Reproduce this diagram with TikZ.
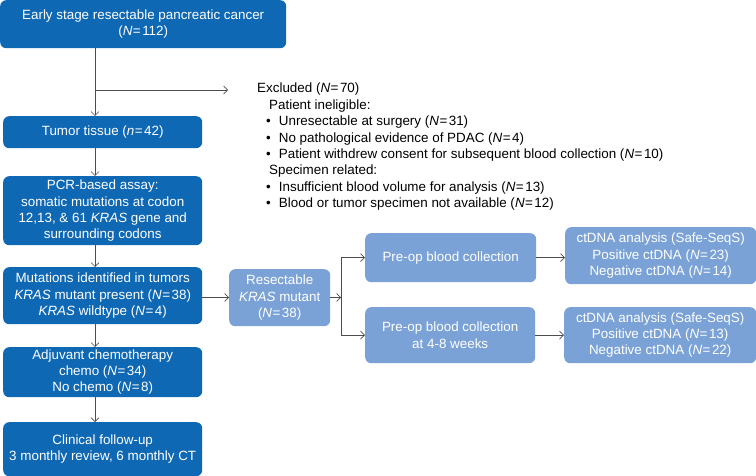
\documentclass[tikz,border=0pt]{standalone}
\usepackage{fontspec}
\setmainfont{Liberation Sans}
\usetikzlibrary{positioning, arrows.meta}

\definecolor{darkbox}{RGB}{15,104,179}
\definecolor{lightbox}{RGB}{123,162,214}
\definecolor{linegray}{RGB}{77,77,77}

\newcommand{\NN}[1]{\textit{N}\kern0.5pt=\kern1.5pt#1}

\tikzset{
  darkstep/.style={fill=darkbox, text=white, rounded corners=6pt, anchor=north west, align=center, inner sep=1pt, font=\fontsize{13.4}{16.2}\selectfont},
  lightstep/.style={darkstep, fill=lightbox},
  flow/.style={draw=linegray, line width=0.7pt, -{Straight Barb[length=4pt,width=8pt]}},
  plain/.style={draw=linegray, line width=0.7pt}
}

\begin{document}
\begin{tikzpicture}[x=1pt, y=-1pt]
  \useasboundingbox (0,0) rectangle (756,476);

  % Left column: main flow
  \node (cohort) [darkstep, minimum width=286pt, minimum height=48pt] at (0,0) {Early stage resectable pancreatic cancer\\(\NN{112})};
  \node (tumor) [darkstep, minimum width=199pt, minimum height=32pt] at (3,116) {Tumor tissue (\textit{n}\kern0.5pt=\kern1.5pt42)};
  \node (pcr) [darkstep, minimum width=199pt, minimum height=69pt] at (3,176) {PCR-based assay:\\somatic mutations at codon\\12,13, \& 61 \textit{KRAS} gene and\\surrounding codons};
  \node (mutations) [darkstep, minimum width=199pt, minimum height=57pt] at (3,267) {Mutations identified in tumors\\\textit{KRAS} mutant present (\NN{38})\\\textit{KRAS} wildtype (\NN{4})};
  \node (adjuvant) [darkstep, minimum width=199pt, minimum height=50pt] at (3,347) {Adjuvant chemotherapy\\chemo (\NN{34})\\No chemo (\NN{8})};
  \node (followup) [darkstep, minimum width=199pt, minimum height=54pt] at (3,422) {Clinical follow-up\\3 monthly review, 6 monthly CT};

  % Excluded patients, no box
  \node (excluded) [anchor=north west, align=left, inner sep=0pt, font=\fontsize{13.4}{16.4}\selectfont] at (257,83) {Excluded (\NN{70})\\
    \hspace{12pt}Patient ineligible:\\
    \hspace{9pt}\textbullet\hspace{8pt}Unresectable at surgery (\NN{31})\\
    \hspace{9pt}\textbullet\hspace{8pt}No pathological evidence of PDAC (\NN{4})\\
    \hspace{9pt}\textbullet\hspace{8pt}Patient withdrew consent for subsequent blood collection (\NN{10})\\
    \hspace{12pt}Specimen related:\\
    \hspace{9pt}\textbullet\hspace{8pt}Insufficient blood volume for analysis (\NN{13})\\
    \hspace{9pt}\textbullet\hspace{8pt}Blood or tumor specimen not available (\NN{12})};
  \coordinate (exclude_tip) at (228,90);

  % Right part: ctDNA branch
  \node (resectable) [lightstep, minimum width=101pt, minimum height=57pt] at (229,269) {Resectable\\\textit{KRAS} mutant\\(\NN{38})};
  \coordinate (split) at (341,297.5);
  \node (preop_one) [lightstep, minimum width=171pt, minimum height=49pt] at (365,233) {Pre-op blood collection};
  \node (preop_two) [lightstep, minimum width=170pt, minimum height=56pt] at (365,307) {Pre-op blood collection\\at 4-8 weeks};
  \node (ctdna_one) [lightstep, minimum width=191pt, minimum height=57pt] at (565,227) {ctDNA analysis (Safe-SeqS)\\Positive ctDNA (\NN{23})\\Negative ctDNA (\NN{14})};
  \node (ctdna_two) [lightstep, minimum width=192pt, minimum height=56pt] at (564,307) {ctDNA analysis (Safe-SeqS)\\Positive ctDNA (\NN{13})\\Negative ctDNA (\NN{22})};

  % Connectors on the left spine (x = 95)
  \coordinate (spine) at (95,0);
  \draw [flow] (spine |- cohort.south) -- (spine |- tumor.north);
  \draw [flow] (spine |- exclude_tip) -- (exclude_tip);
  \draw [flow] (spine |- tumor.south) -- (spine |- pcr.north);
  \draw [flow] (spine |- pcr.south) -- (spine |- mutations.north);
  \draw [flow] (spine |- mutations.south) -- (spine |- adjuvant.north);
  \draw [flow] (spine |- adjuvant.south) -- (spine |- followup.north);

  % Connectors to the right
  \draw [flow] (mutations.east |- split) -- (resectable.west |- split);
  \draw [flow] (resectable.east |- split) -- (split);
  \draw [plain] (split |- preop_one.west) -- (split |- preop_two.west);
  \draw [flow] (split |- preop_one.west) -- (preop_one.west);
  \draw [flow] (split |- preop_two.west) -- (preop_two.west);
  \draw [flow] (preop_one.east) -- (ctdna_one.west |- preop_one.east);
  \draw [flow] (preop_two.east) -- (ctdna_two.west |- preop_two.east);
\end{tikzpicture}
\end{document}
